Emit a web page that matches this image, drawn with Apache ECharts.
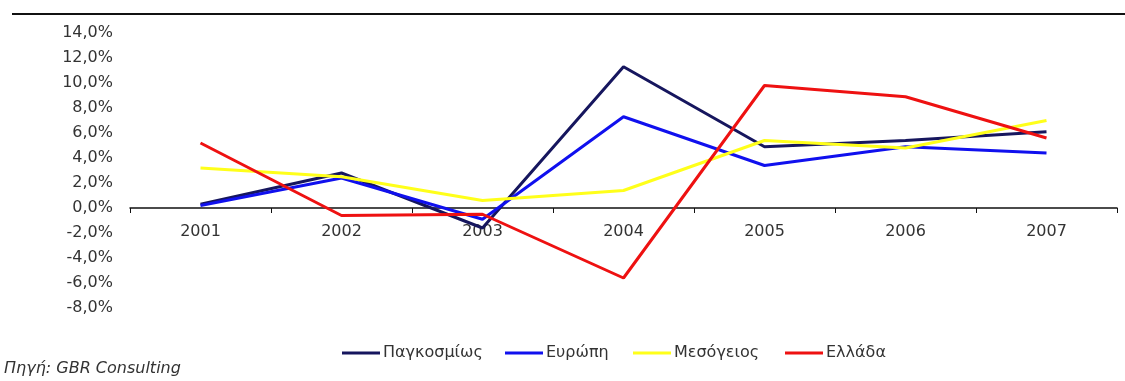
<!DOCTYPE html>
<html>
<head>
<meta charset="utf-8">
<script src="https://cdn.jsdelivr.net/npm/echarts@6/dist/echarts.min.js"></script>
<style>
  html, body { margin: 0; padding: 0; background: #fff; }
  #chart { width: 1125px; height: 381px; }
</style>
</head>
<body>
<div id="chart"></div>
<script>
// Annual change by region, 2001-2007 (%)
const years = ['2001', '2002', '2003', '2004', '2005', '2006', '2007'];
const seriesNames = ['Παγκοσμίως', 'Ευρώπη', 'Μεσόγειος', 'Ελλάδα'];
const world = [0.3, 2.8, -1.6, 11.3, 4.9, 5.4, 6.1];
const europe = [0.2, 2.4, -0.9, 7.3, 3.4, 4.9, 4.4];
const mediterranean = [3.2, 2.5, 0.6, 1.4, 5.4, 4.8, 7.0];
const greece = [5.2, -0.6, -0.5, -5.6, 9.8, 8.9, 5.6];
const yMin = -8, yMax = 14, yStep = 2;
const sourceNote = 'Πηγή: GBR Consulting';

const colors = ['#16165e', '#1010ee', '#ffff1a', '#ee1111'];
const values = [world, europe, mediterranean, greece];
const font = '"DejaVu Sans", Verdana, sans-serif';

const gridTop = 33, gridBottom = 73, chartHeight = 381;
const plotHeight = chartHeight - gridTop - gridBottom;
// lift the category axis so it runs along the zero line
const zeroLift = plotHeight * (0 - yMin) / (yMax - yMin);

// one legend block per series, laid out along the bottom row
const legendLeft = [337, 500, 628, 780];
const legends = seriesNames.map((name, i) => ({
  data: [name],
  left: legendLeft[i],
  top: 340,
  icon: 'rect',
  itemWidth: 38,
  itemHeight: 3,
  textStyle: { fontFamily: font, fontSize: 16, color: '#333', padding: [0, 0, 0, -2] }
}));

const chart = echarts.init(document.getElementById('chart'), null, { renderer: 'canvas' });
chart.setOption({
  animation: false,
  backgroundColor: '#fff',
  grid: { left: 130, right: 8, top: gridTop, bottom: gridBottom },
  legend: legends,
  xAxis: {
    type: 'category',
    data: years,
    boundaryGap: true,
    offset: -zeroLift,
    axisLine: { onZero: false, lineStyle: { color: '#111', width: 1.5 } },
    axisTick: { show: true, inside: false, length: 5, lineStyle: { color: '#111' } },
    axisLabel: { margin: 16, fontFamily: font, fontSize: 16, color: '#333' },
    splitLine: { show: false }
  },
  yAxis: {
    type: 'value',
    min: yMin,
    max: yMax,
    interval: yStep,
    axisLine: { show: false },
    axisTick: { show: false },
    splitLine: { show: false },
    axisLabel: {
      margin: 17,
      fontFamily: font,
      fontSize: 16,
      color: '#333',
      formatter: v => v.toFixed(1).replace('.', ',') + '%'
    }
  },
  series: seriesNames.map((name, i) => ({
    name,
    type: 'line',
    data: values[i],
    symbol: 'none',
    itemStyle: { color: colors[i] },
    lineStyle: { color: colors[i], width: 3 }
  })),
  graphic: [
    {
      type: 'line',
      shape: { x1: 12, y1: 14, x2: 1125, y2: 14 },
      style: { stroke: '#111', lineWidth: 2 }
    },
    {
      type: 'text',
      left: 4,
      top: 361,
      style: { text: sourceNote, fontFamily: font, fontSize: 16, fontStyle: 'italic', fill: '#333' }
    }
  ]
});
</script>
</body>
</html>
